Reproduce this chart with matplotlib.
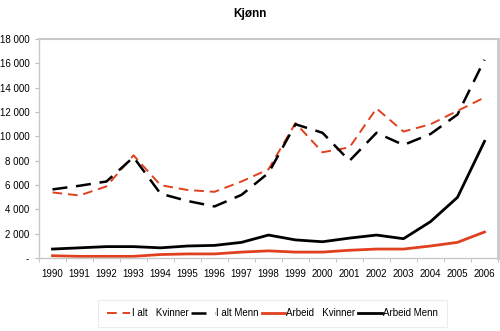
import numpy as np
import matplotlib.pyplot as plt

years = [str(y) for y in range(1990, 2007)]
kvinner_ialt = [5400, 5150, 5900, 8450, 6000, 5600, 5450, 6300, 7300, 11100,
                8700, 9100, 12300, 10400, 11000, 12100, 13200]
menn_ialt = [5650, 5950, 6300, 8300, 5300, 4700, 4250, 5200, 7000, 11000,
             10300, 8000, 10300, 9300, 10200, 11800, 16300]
kvinner_arbeid = [200, 150, 150, 150, 300, 350, 350, 500, 600, 500,
                  500, 650, 750, 750, 1000, 1300, 2150]
menn_arbeid = [750, 850, 950, 950, 850, 1000, 1050, 1300, 1900, 1500,
               1350, 1650, 1900, 1600, 3000, 5000, 9600]
yticks = [0, 2000, 4000, 6000, 8000, 10000, 12000, 14000, 16000, 18000]
ylabels = ['-', '2 000', '4 000', '6 000', '8 000', '10 000', '12 000',
           '14 000', '16 000', '18 000']

plt.rcParams['font.family'] = ['Liberation Sans', 'DejaVu Sans']
red = '#e0401e'

fig = plt.figure(figsize=(5, 3.31), dpi=100)
ax = fig.add_axes([0.078, 0.22, 0.918, 0.662])
x = np.arange(len(years))

ax.plot(x, kvinner_ialt, color=red, lw=1.4, dashes=(5, 3), label='I alt   Kvinner')
ax.plot(x, menn_ialt, color='black', lw=1.8, dashes=(6, 3.5), label='I alt Menn')
ax.plot(x, kvinner_arbeid, color=red, lw=2, label='Arbeid   Kvinner')
ax.plot(x, menn_arbeid, color='black', lw=2, label='Arbeid Menn')

ax.set_xlim(-0.5, len(years) - 0.5)
ax.set_ylim(0, 18000)
ax.set_yticks(yticks)
ax.set_yticklabels(ylabels)
ax.set_xticks(x)
ax.set_xticklabels(years)
ax.set_xticks(np.arange(-0.5, len(years), 1), minor=True)
ax.tick_params(axis='x', which='major', length=0, labelsize=7, pad=8)
ax.tick_params(axis='x', which='minor', length=3, color='#bbbbbb')
ax.tick_params(axis='y', length=3, color='#bbbbbb', labelsize=7, pad=4)

for s in ax.spines.values():
    s.set_color('#c8c8c8')
    s.set_linewidth(1)
ax.spines['right'].set_linewidth(2)
ax.spines['top'].set_linewidth(1.5)

fig.suptitle('Kjønn', x=0.5, y=0.975, fontsize=8.5, fontweight='bold')

leg = fig.legend(loc='center', bbox_to_anchor=(0.545, 0.053), ncol=4,
                 fontsize=7, frameon=True, fancybox=False, handlelength=2.4,
                 handletextpad=0.15, columnspacing=0.3, borderpad=0.9)
leg.get_frame().set_edgecolor('#e8e8e8')
leg.get_frame().set_linewidth(0.8)

fig.savefig('out.png', dpi=100)
